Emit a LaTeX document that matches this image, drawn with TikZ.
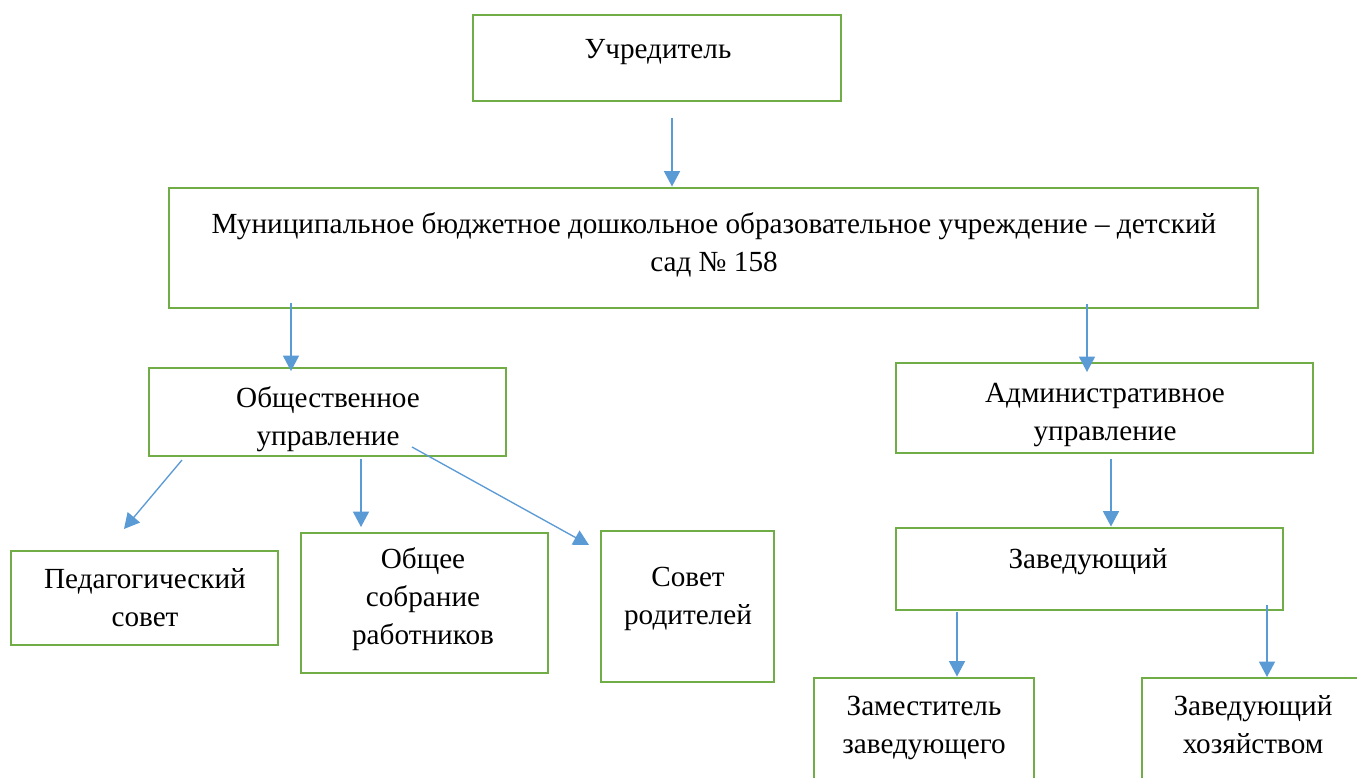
\documentclass[tikz,border=0pt]{standalone}
\usepackage{fontspec}
\setmainfont{Liberation Serif}
\usetikzlibrary{arrows.meta,fit}
\definecolor{boxgreen}{HTML}{70AD47}
\definecolor{arrblue}{HTML}{5B9BD5}
\tikzset{
  box/.style={draw=boxgreen, line width=2.2pt, inner sep=0pt, fill=none},
  txt/.style={inner sep=0pt, align=center, anchor=base, font=\fontsize{21.9}{28.5}\selectfont},
  arr/.style={draw=arrblue, line width=1pt, -{Triangle[width=12pt,length=11.5pt]}}
}
\begin{document}
\begin{tikzpicture}[x=0.75pt,y=-0.75pt]
\useasboundingbox[fill=white] (0,0) rectangle (1357,778);
% boxes
\node[box, fit={(473,15)(841,101)}] (uch) {};
\node[box, fit={(169,188)(1258,308)}] (mb) {};
\node[box, fit={(149,368)(506,456)}] (obsh) {};
\node[box, fit={(896,363)(1313,453)}] (adm) {};
\node[box, fit={(11,551)(278,645)}] (ped) {};
\node[box, fit={(301,533)(548,673)}] (sob) {};
\node[box, fit={(601,531)(774,682)}] (sov) {};
\node[box, fit={(896,528)(1283,610)}] (zav) {};
\node[box, fit={(814,678)(1034,820)}] (zam) {};
\node[box, fit={(1142,678)(1380,820)}] (zh) {};
% texts (anchor = baseline of the last line)
\node[txt] (uchT) at (658,58) {Учредитель};
\node[txt] (mbT) at (714,271) {Муниципальное бюджетное дошкольное образовательное учреждение – детский\\сад № 158};
\node[txt] (obshT) at (328,445) {Общественное\\управление};
\node[txt] (admT) at (1105,440) {Административное\\управление};
\node[txt] (pedT) at (145,626) {Педагогический\\совет};
\node[txt] (sobT) at (423,644) {Общее\\собрание\\работников};
\node[txt] (sovT) at (688,624) {Совет\\родителей};
\node[txt] (zavT) at (1088,568) {Заведующий};
\node[txt] (zamT) at (924,753) {Заместитель\\заведующего};
\node[txt] (zhT) at (1253,753) {Заведующий\\хозяйством};
% connector ends
\coordinate (s1) at (672,118);
\coordinate (s2) at (291,303);
\coordinate (e2) at (291,371);
\coordinate (s3) at (1087,304);
\coordinate (e3) at (1087,372);
\coordinate (s4) at (182,460);
\coordinate (e4) at (124,529);
\coordinate (s5) at (361,459);
\coordinate (e5) at (361,527);
\coordinate (s6) at (412,447);
\coordinate (e6) at (589,545);
\coordinate (s7) at (1111,459);
\coordinate (s8) at (957,612);
\coordinate (s9) at (1267,605);
\coordinate (e9) at (1267,677);
% connectors
\draw[arr] (s1) -- (s1 |- mb.north);
\draw[arr] (s2) -- (e2);
\draw[arr] (s3) -- (e3);
\draw[arr] (s4) -- (e4);
\draw[arr] (s5) -- (e5);
\draw[arr] (s6) -- (e6);
\draw[arr] (s7) -- (s7 |- zav.north);
\draw[arr] (s8) -- (s8 |- zam.north);
\draw[arr] (s9) -- (e9);
\end{tikzpicture}
\end{document}
